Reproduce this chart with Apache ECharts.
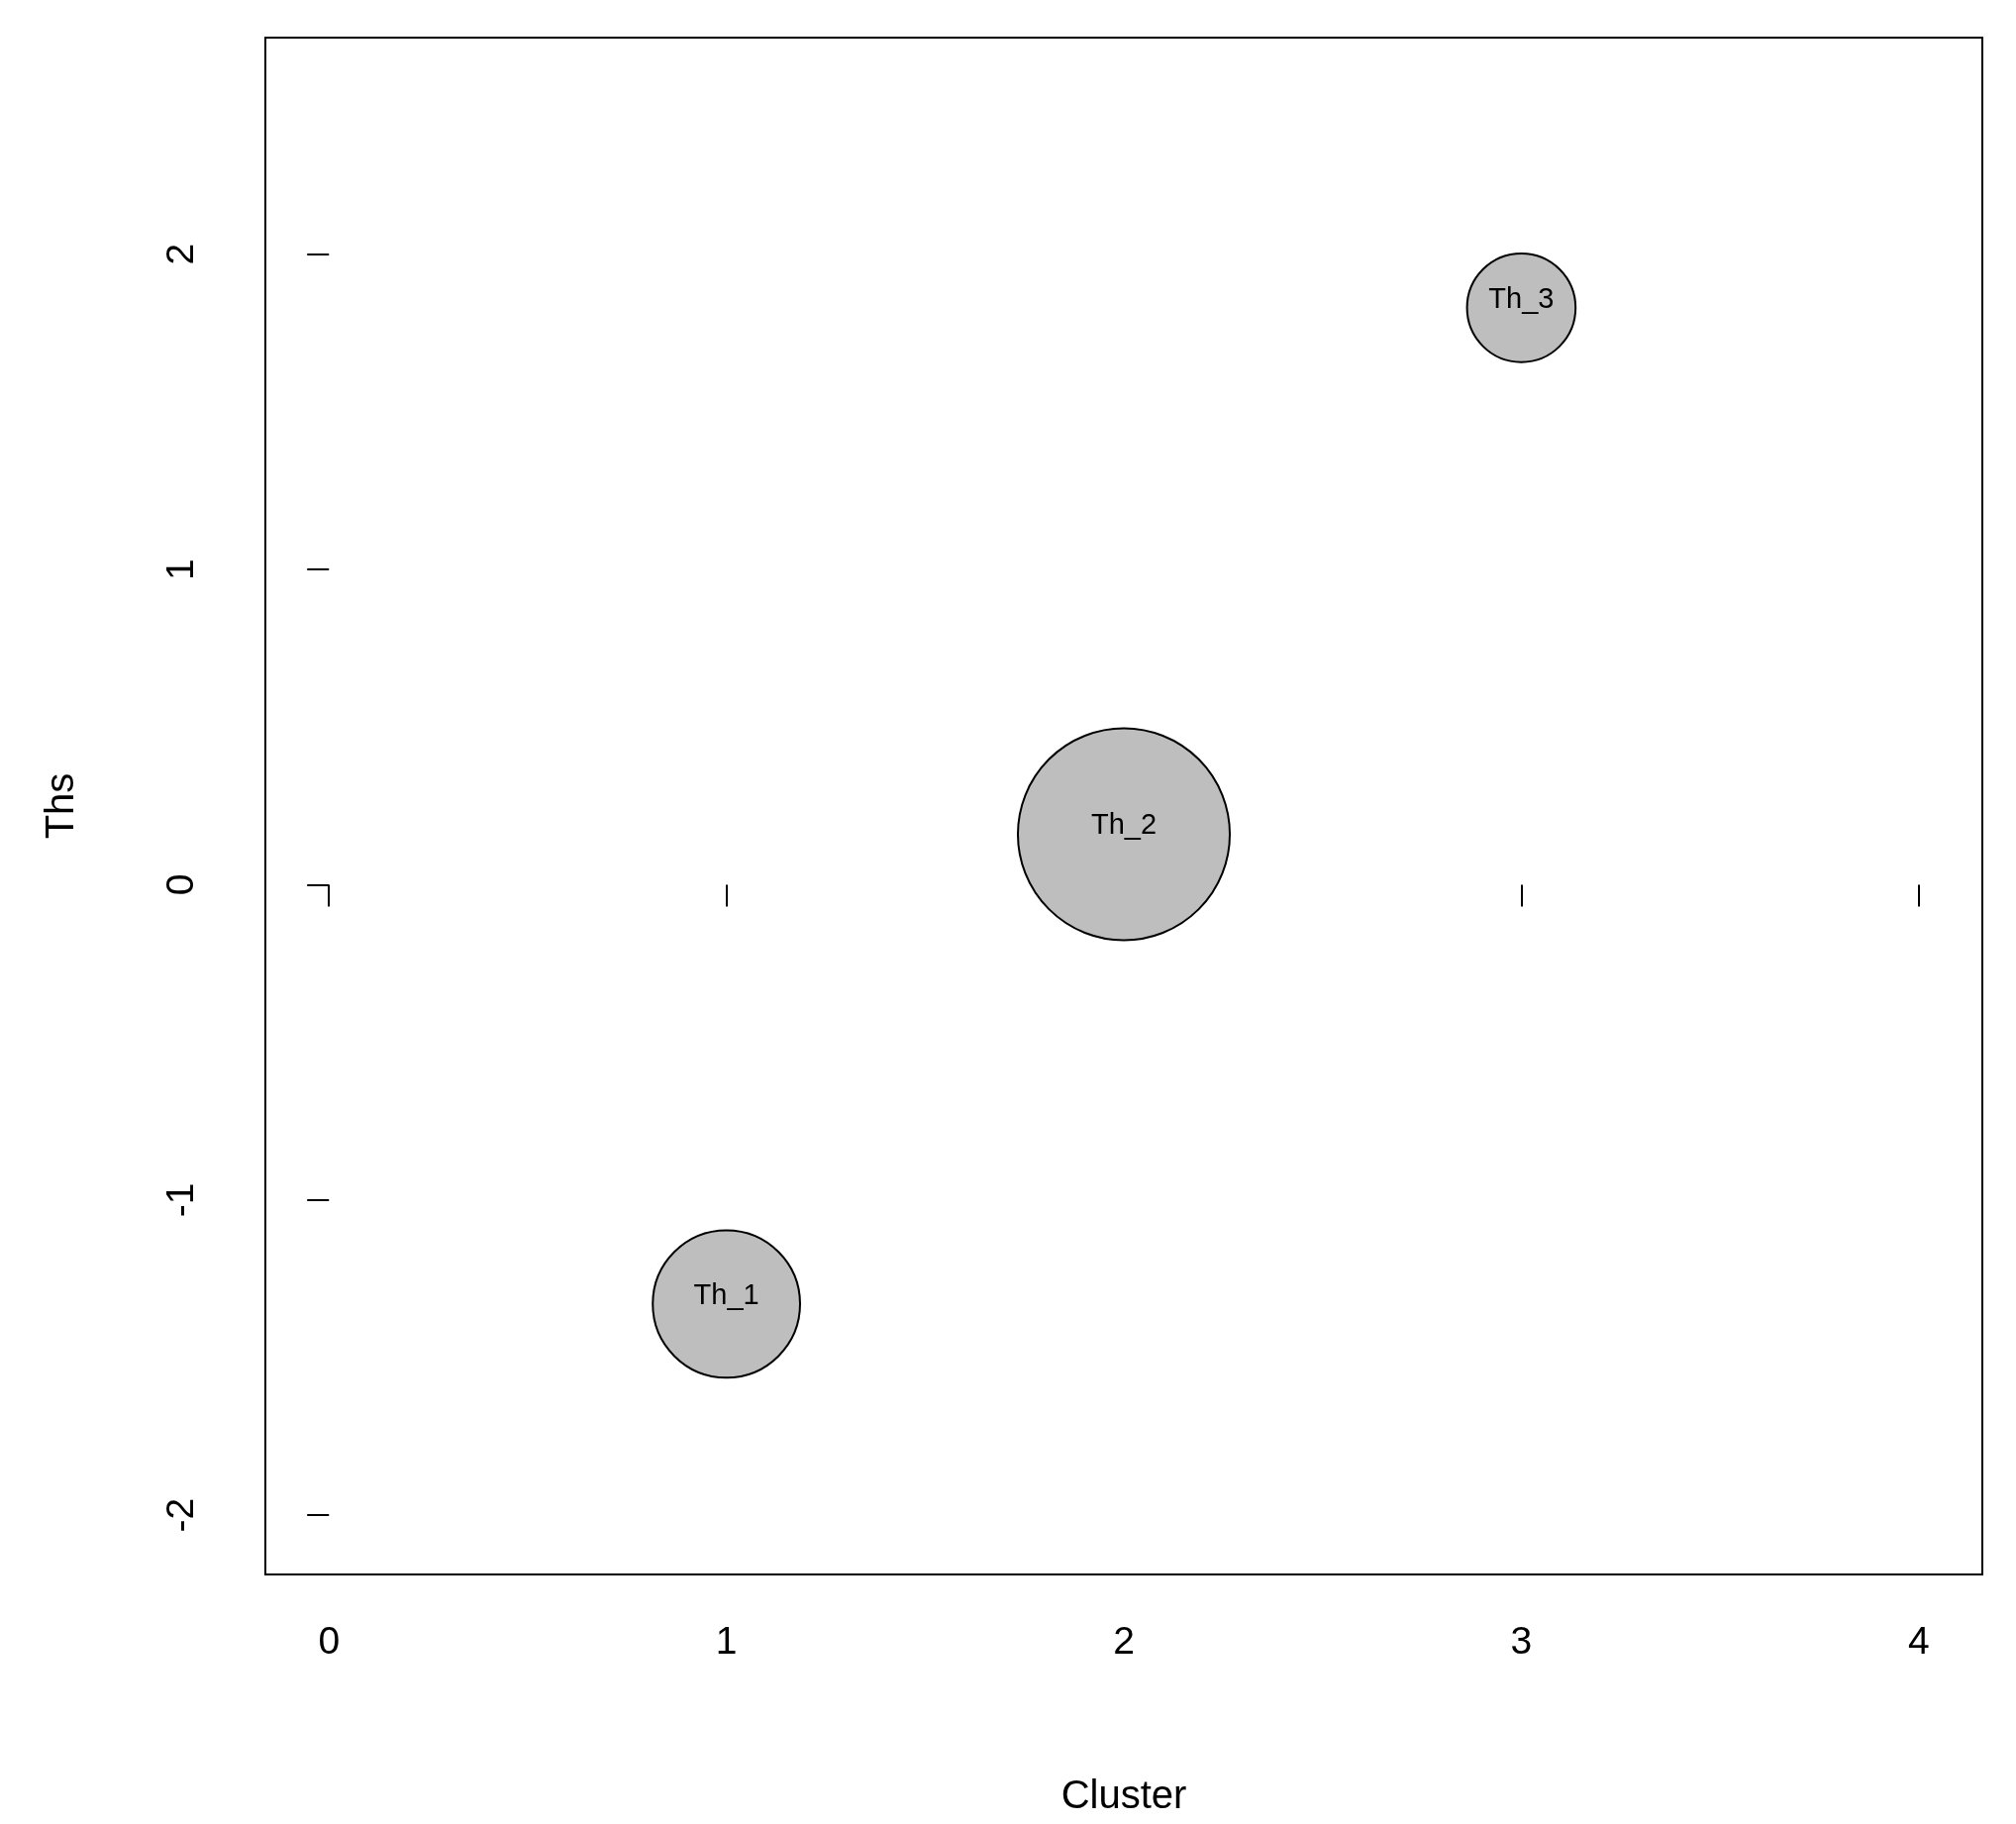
<!DOCTYPE html>
<html><head><meta charset="utf-8">
<script src="https://cdn.jsdelivr.net/npm/echarts@6/dist/echarts.min.js"></script>
<style>html,body{margin:0;padding:0;background:#fff}#c{width:2036px;height:1842px}</style>
</head><body><div id="c"></div>
<script>
const names = ['Th_1','Th_2','Th_3'];
const clusters = [1, 2, 3];
const ths = [-1.33, 0.16, 1.83];
const sizes = [0.57, 0.82, 0.42];
const xTicks = [0, 1, 2, 3, 4];
const yTicks = [-2, -1, 0, 1, 2];
const font = 'Liberation Sans, Arial, sans-serif';
const chart = echarts.init(document.getElementById('c'));
chart.setOption({
  backgroundColor: '#fff',
  animation: false,
  grid: {left: 268, right: 34, top: 38, bottom: 252, show: true, borderColor: '#000', borderWidth: 2},
  xAxis: {
    type: 'value', min: -0.16, max: 4.16,
    name: 'Cluster', nameLocation: 'middle', nameGap: 205,
    nameTextStyle: {fontSize: 40, color: '#000', fontFamily: font},
    axisLine: {show: false}, splitLine: {show: false},
    axisTick: {show: true, length: 22, lineStyle: {color: '#000', width: 2}, customValues: xTicks},
    axisLabel: {fontSize: 39, color: '#000', fontFamily: font, margin: 50, customValues: xTicks}
  },
  yAxis: {
    type: 'value', min: -2.188, max: 2.687,
    name: 'Ths', nameLocation: 'middle', nameGap: 185,
    nameTextStyle: {fontSize: 40, color: '#000', fontFamily: font},
    axisLine: {show: false}, splitLine: {show: false},
    axisTick: {show: true, length: 22, lineStyle: {color: '#000', width: 2}, customValues: yTicks},
    axisLabel: {fontSize: 39, color: '#000', fontFamily: font, margin: 64, rotate: 90, customValues: yTicks}
  },
  series: [{
    type: 'scatter',
    data: names.map((n, i) => ({name: n, value: [clusters[i], ths[i], sizes[i]]})),
    symbolSize: v => v[2] * 261,
    itemStyle: {color: '#bebebe', borderColor: '#000', borderWidth: 2, opacity: 1},
    label: {show: true, formatter: p => p.name, color: '#000', fontSize: 29, fontFamily: font, position: 'inside', offset: [0, -8]}
  }]
});
</script></body></html>
